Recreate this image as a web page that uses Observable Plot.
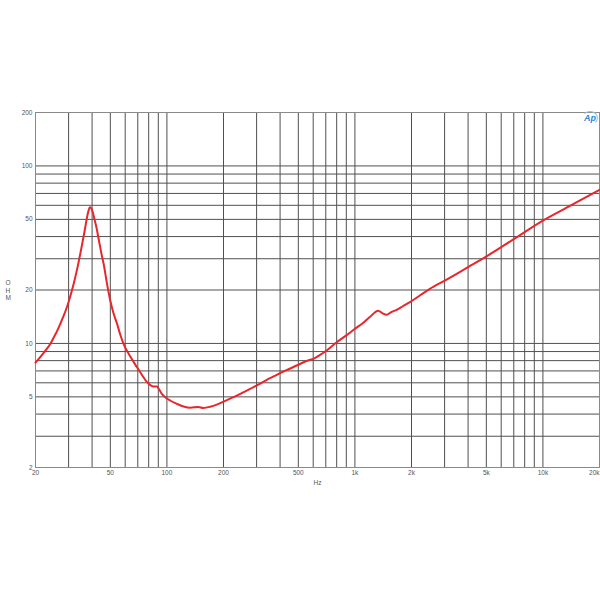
<!DOCTYPE html>
<html><head><meta charset="utf-8">
<script src="https://cdn.jsdelivr.net/npm/d3@7"></script>
<script src="https://cdn.jsdelivr.net/npm/@observablehq/plot@0.6"></script>
<style>
body{margin:0;background:#fff;font-family:Arial,"Liberation Sans",sans-serif}
#wrap{position:relative;width:600px;height:600px}
#logo{position:absolute;left:582px;top:111px;font:italic bold 9px Arial,"Liberation Sans",sans-serif;color:#2a86d8;border:1px solid #8fc0ec;border-radius:50%;width:14px;height:12px;line-height:12px;text-align:center;border-left-color:transparent;border-bottom-color:transparent}
</style>
</head><body><div id="wrap"><span id="logo">Ap</span></div>
<script>
const freq = [20,22,24,25,26,27.1,28,29.5,31,32,33.5,35,36.5,37.6,38.3,38.9,39.5,40.3,41.2,42.2,43.5,45,46.1,47.7,50,52,54.3,56.5,58.8,64,69.3,74,78.4,82,85,88.5,91,94,98,104,113,122.7,133,147,156,170,184,200,226,250,277,310,340,380,416,450,490,577,601,650,708,800,900,1001,1100,1200,1330,1400,1476,1560,1668,1800,1960,2504,3008,4000,5010,7000,10000,14000,20000];
const ohm  = [7.8,8.8,9.95,10.8,11.7,12.9,14.0,16.2,19.3,21.9,27,34,43,51.4,56,58.5,58,55,50,45,38,31.5,28,22.6,17.4,14.8,12.9,11.2,9.95,8.4,7.35,6.6,6.05,5.8,5.72,5.72,5.5,5.2,4.98,4.77,4.57,4.41,4.34,4.39,4.33,4.4,4.52,4.7,4.98,5.25,5.55,5.9,6.24,6.6,6.95,7.2,7.51,8.09,8.19,8.6,9.13,10.16,11.1,12.09,13.0,14.1,15.3,14.8,14.5,15.0,15.47,16.2,17.07,20.3,22.6,26.9,30.9,38.7,49.2,59.7,73.3];
const xGrid = [20,30,40,50,60,70,80,90,100,200,300,400,500,600,700,800,900,1000,2000,3000,4000,5000,6000,7000,8000,9000,10000,20000];
const yGrid = [2,3,4,5,6,7,8,9,10,20,30,40,50,60,70,80,90,100,200];
const xTickValues = [20,50,100,200,500,1000,2000,5000,10000];
const xTickLabels = ["20","50","100","200","500","1k","2k","5k","10k"];
const xLastTick = [20000];
const xLastLabel = ["20k"];
const yTickValues = [2,5,10,20,50,100,200];
const yTickLabels = ["2","5","10","20","50","100","200"];

const data = freq.map((f,i)=>({f, z: ohm[i]}));

const chart = Plot.plot({
  width:600, height:600,
  marginLeft:35, marginRight:1, marginTop:112, marginBottom:133,
  x:{type:"log", domain:[20,20000], axis:null},
  y:{type:"log", domain:[2,200], axis:null},
  style:{fontFamily:"Arial, 'Liberation Sans', sans-serif", fontSize:"6.5px", color:"#555", background:"#fff"},
  marks:[
    Plot.ruleX(xGrid, {stroke:"#505050", strokeWidth:1}),
    Plot.ruleY(yGrid, {stroke:"#505050", strokeWidth:1}),
    Plot.frame({stroke:"#8a8a8a"}),
    Plot.text(xTickValues, {x:d=>d, text:(d,i)=>xTickLabels[i], frameAnchor:"bottom", dy:7, fill:"#555"}),
    Plot.text(xLastTick, {x:d=>d, text:(d,i)=>xLastLabel[i], frameAnchor:"bottom", dy:7, textAnchor:"end", fill:"#555"}),
    Plot.text(yTickValues, {y:d=>d, text:(d,i)=>yTickLabels[i], frameAnchor:"left", dx:-3, textAnchor:"end", fill:"#555"}),
    Plot.text(["Hz"], {frameAnchor:"bottom", dy:17, text:d=>d, fill:"#555"}),
    Plot.text(["O\nH\nM"], {frameAnchor:"left", dx:-30, text:d=>d, lineHeight:1.2, fill:"#555"}),
    Plot.line(data, {x:"f", y:"z", stroke:"#e8262b", strokeWidth:2, curve:"monotone-x"})
  ]
});
document.getElementById("wrap").prepend(chart);
</script>
</body></html>
